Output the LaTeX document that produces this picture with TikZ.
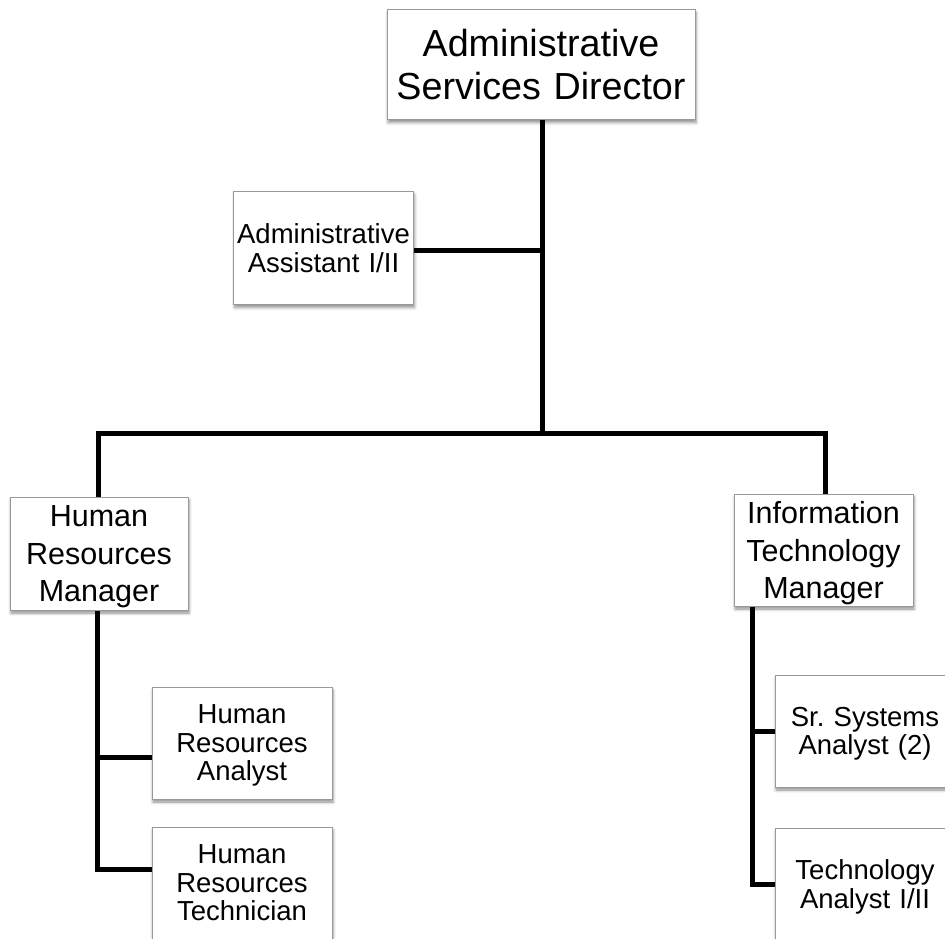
\documentclass[tikz,border=0pt]{standalone}
\usepackage{fontspec}
\setmainfont{Liberation Sans}
\usetikzlibrary{shadows.blur}
\begin{document}
\begin{tikzpicture}[x=1pt,y=-1pt,
  box/.style={draw=black!40, line width=1pt, fill=white, rectangle, inner sep=0pt,
    align=center,
    blur shadow={shadow xshift=1pt, shadow yshift=-3pt, shadow blur radius=3pt, shadow opacity=45}},
  % depth below the first baseline = (lines - 1) x leading, so the block centres on its ink
  topbox/.style={box, font=\fontsize{37.7}{43}\selectfont, text depth=43pt},
  mgrbox/.style={box, font=\fontsize{30.5}{37.5}\selectfont, text depth=75pt},
  subboxii/.style={box, font=\fontsize{27.5}{28.5}\selectfont, text depth=28.5pt},
  subboxiii/.style={box, font=\fontsize{27.5}{28.5}\selectfont, text depth=57pt},
  link/.style={line width=5pt, line join=miter, line cap=butt}]
\useasboundingbox (0,0) rectangle (945,938);
\clip (0,0) rectangle (945,938);

% boxes
\node[topbox, minimum width=308pt, minimum height=110pt, text width=306pt] (dir) at (541,64.5)
  {Administrative\\Services Director};
\node[subboxii, minimum width=180pt, minimum height=113pt, text width=178pt] (asst) at (323.5,248)
  {Administrative\\Assistant I/II};
\node[mgrbox, minimum width=178pt, minimum height=113pt, text width=176pt] (hrm) at (99,553.5)
  {Human\\Resources\\Manager};
\node[mgrbox, minimum width=179pt, minimum height=112pt, text width=177pt] (itm) at (823.5,550)
  {Information\\Technology\\Manager};
\node[subboxiii, minimum width=180pt, minimum height=112pt, text width=178pt] (hra) at (242,743)
  {Human\\Resources\\Analyst};
\node[subboxiii, minimum width=180pt, minimum height=112pt, text width=178pt] (hrt) at (242,883)
  {Human\\Resources\\Technician};
\node[subboxii, minimum width=180pt, minimum height=112pt, text width=178pt] (ssa) at (865,731)
  {Sr.\ Systems\\Analyst (2)};
\node[subboxii, minimum width=180pt, minimum height=112pt, text width=178pt] (ta) at (865,884)
  {Technology\\Analyst I/II};

\coordinate (jn) at (542,433);
\coordinate (itbar) at ([xshift=19pt]itm.south west);

% reporting lines
\draw[link] (dir.south -| jn) -- (jn);
\draw[link] (asst.east |- 0,250) -- (jn |- 0,250);
\draw[link] (hrm.north -| 98,0) |- (jn) -| (itm.north -| 825,0);
\draw[link] (hrm.south -| 97,0) |- (hrt.west |- 0,869);
\draw[link] (97,757) -- (hra.west |- 0,757);
\draw[link] (itbar) |- (ta.west);
\draw[link] (itbar |- ssa.west) -- (ssa.west);
\end{tikzpicture}
\end{document}
